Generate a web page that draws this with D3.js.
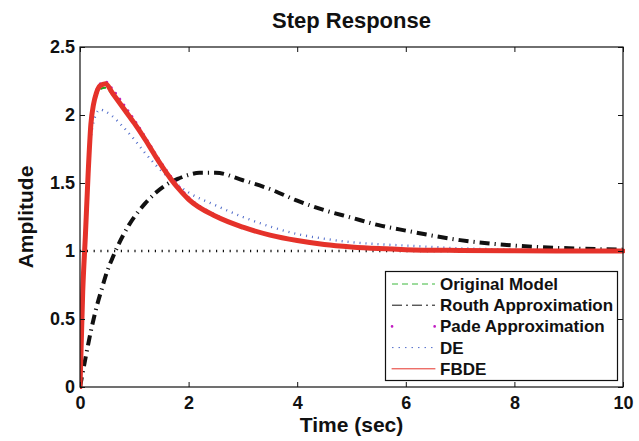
<!DOCTYPE html>
<html><head><meta charset="utf-8">
<script src="https://cdn.jsdelivr.net/npm/d3@7/dist/d3.min.js"></script>
<style>body{margin:0;background:#fff}svg{display:block}text{font-family:"Liberation Sans",Arial,sans-serif;font-weight:bold;fill:#111}</style>
</head><body><svg id="c" width="639" height="441"></svg>
<script>
const title = "Step Response";
const xLabel = "Time (sec)";
const yLabel = "Amplitude";
const xTicks = [0, 2, 4, 6, 8, 10];
const yTicks = [0, 0.5, 1, 1.5, 2, 2.5];
const yTickLabels = ["0", "0.5", "1", "1.5", "2", "2.5"];
const seriesNames = ["Original Model", "Routh Approximation", "Pade Approximation", "DE", "FBDE"];

const tFast = [0, 0.05, 0.1, 0.15, 0.2, 0.25, 0.3, 0.37, 0.47, 0.6, 0.8, 1.0, 1.2, 1.4, 1.6, 1.8, 2.0, 2.5, 3.0, 3.5, 4.0, 4.5, 5.0, 5.5, 6.0, 7.0, 8.0, 9.0, 10.0];
const original = [0, 0.75, 1.2, 1.62, 1.95, 2.07, 2.14, 2.19, 2.2, 2.15, 2.05, 1.94, 1.82, 1.695, 1.58, 1.475, 1.385, 1.255, 1.172, 1.113, 1.073, 1.045, 1.027, 1.015, 1.008, 1.002, 1.0, 1.0, 1.0];
const pade = [0, 0.68, 1.15, 1.6, 1.95, 2.1, 2.18, 2.23, 2.245, 2.19, 2.08, 1.965, 1.84, 1.71, 1.59, 1.485, 1.395, 1.265, 1.18, 1.12, 1.078, 1.048, 1.029, 1.017, 1.01, 1.003, 1.001, 1.0, 1.0];
const de = [0, 0.7, 1.15, 1.55, 1.83, 1.95, 2.01, 2.04, 2.025, 1.99, 1.91, 1.82, 1.72, 1.63, 1.55, 1.485, 1.43, 1.335, 1.25, 1.18, 1.125, 1.09, 1.065, 1.05, 1.04, 1.02, 1.01, 1.005, 1.003];
const fbde = [0, 0.7, 1.12, 1.57, 1.93, 2.08, 2.16, 2.215, 2.23, 2.16, 2.05, 1.94, 1.82, 1.69, 1.57, 1.465, 1.38, 1.255, 1.175, 1.117, 1.077, 1.048, 1.03, 1.018, 1.01, 1.004, 1.001, 1.0, 1.0];

const tRouth = [0, 0.1, 0.2, 0.3, 0.4, 0.5, 0.6, 0.7, 0.8, 0.9, 1.0, 1.2, 1.4, 1.6, 1.8, 2.0, 2.2, 2.5, 3.0, 3.5, 4.0, 4.5, 5.0, 5.5, 6.0, 7.0, 8.0, 9.0, 10.0];
const routh = [0, 0.21, 0.41, 0.58, 0.72, 0.85, 0.95, 1.04, 1.12, 1.19, 1.25, 1.35, 1.43, 1.49, 1.53, 1.56, 1.575, 1.575, 1.52, 1.455, 1.37, 1.30, 1.245, 1.19, 1.15, 1.08, 1.04, 1.02, 1.01];

const steady = [[0, 1], [10, 1]];

const svg = d3.select("#c");
const L = 80, R = 623, T = 47, B = 387;
const x = d3.scaleLinear().domain([0, 10]).range([L, R]);
const y = d3.scaleLinear().domain([0, 2.5]).range([B, T]);

const styles = [
  {color: "#1fa51f", w: 2, dash: "6,4", cap: "butt", lw: 1, lcolor: "#3cb83c", ldash: "6,4"},
  {color: "#111", w: 4, dash: "10,5,1.2,5", cap: "butt", lw: 1, lcolor: "#111", ldash: "10,4,2,4"},
  {color: "#c21cc2", w: 2.6, dash: "0.1,7", cap: "round", lw: 2.6, lcolor: "#c21cc2", ldash: "0.1,42.5"},
  {color: "#4f6bc9", w: 2.4, dash: "1,5", cap: "butt", lw: 1, lcolor: "#4f6bc9", ldash: "1.5,5"},
  {color: "#e5322a", w: 5, dash: null, cap: "round", lw: 1, lcolor: "#e5322a", ldash: null}
];

svg.append("clipPath").attr("id", "pc").append("rect")
  .attr("x", L).attr("y", T - 10).attr("width", R - L + 2).attr("height", B - T + 12);

const line = d3.line().x(d => x(d[0])).y(d => y(d[1])).curve(d3.curveMonotoneX);
const g = svg.append("g").attr("clip-path", "url(#pc)");

g.append("path").attr("d", d3.line().x(d => x(d[0])).y(d => y(d[1]))(steady))
  .attr("fill", "none").attr("stroke", "#111").attr("stroke-width", 2.6).attr("stroke-dasharray", "1.2,5.6");

const data = [
  d3.zip(tFast, original),
  d3.zip(tRouth, routh),
  d3.zip(tFast, pade),
  d3.zip(tFast, de),
  d3.zip(tFast, fbde)
];
data.forEach((d, i) => {
  const s = styles[i];
  g.append("path").attr("d", line(d)).attr("fill", "none")
    .attr("stroke", s.color).attr("stroke-width", s.w)
    .attr("stroke-linecap", s.cap).attr("stroke-linejoin", "round")
    .attr("stroke-dasharray", s.dash);
});

svg.append("rect").attr("x", L).attr("y", T).attr("width", R - L).attr("height", B - T)
  .attr("fill", "none").attr("stroke", "#111").attr("stroke-width", 1.2);

const tl = 5;
const styleText = a => a.selectAll("text").attr("font-size", 18).attr("font-family", "Liberation Sans").attr("font-weight", "bold").attr("fill", "#111");
svg.append("g").attr("transform", `translate(0,${B})`)
  .call(d3.axisBottom(x).tickValues(xTicks).tickSizeInner(-tl).tickSizeOuter(0).tickPadding(9))
  .call(a => a.select(".domain").remove()).call(styleText);
svg.append("g").attr("transform", `translate(0,${T})`)
  .call(d3.axisTop(x).tickValues(xTicks).tickSizeInner(-tl).tickSizeOuter(0).tickFormat(""))
  .call(a => a.select(".domain").remove());
svg.append("g").attr("transform", `translate(${L},0)`)
  .call(d3.axisLeft(y).tickValues(yTicks).tickSizeInner(-tl).tickSizeOuter(0).tickPadding(5)
    .tickFormat((d, i) => yTickLabels[i]))
  .call(a => a.select(".domain").remove()).call(styleText);
svg.append("g").attr("transform", `translate(${R},0)`)
  .call(d3.axisRight(y).tickValues(yTicks).tickSizeInner(-tl).tickSizeOuter(0).tickFormat(""))
  .call(a => a.select(".domain").remove());
svg.selectAll(".tick line").attr("stroke", "#111");

svg.append("text").attr("x", (L + R) / 2).attr("y", 28).attr("text-anchor", "middle")
  .attr("font-size", 22).text(title);
svg.append("text").attr("x", (L + R) / 2).attr("y", 432).attr("text-anchor", "middle")
  .attr("font-size", 21).text(xLabel);
svg.append("text").attr("transform", `translate(33,${(T + B) / 2}) rotate(-90)`).attr("text-anchor", "middle")
  .attr("font-size", 21).text(yLabel);

const lg = svg.append("g");
lg.append("rect").attr("x", 385.5).attr("y", 271.5).attr("width", 232).attr("height", 109)
  .attr("fill", "#fff").attr("stroke", "#111").attr("stroke-width", 1.2);
seriesNames.forEach((n, i) => {
  const s = styles[i];
  const yy = 284 + i * 21.2;
  lg.append("line").attr("x1", 392).attr("x2", 435).attr("y1", yy).attr("y2", yy)
    .attr("stroke", s.lcolor).attr("stroke-width", s.lw).attr("stroke-linecap", s.cap)
    .attr("stroke-dasharray", s.ldash);
  lg.append("text").attr("x", 440).attr("y", yy + 6).attr("font-size", 17).text(n);
});
</script></body></html>
